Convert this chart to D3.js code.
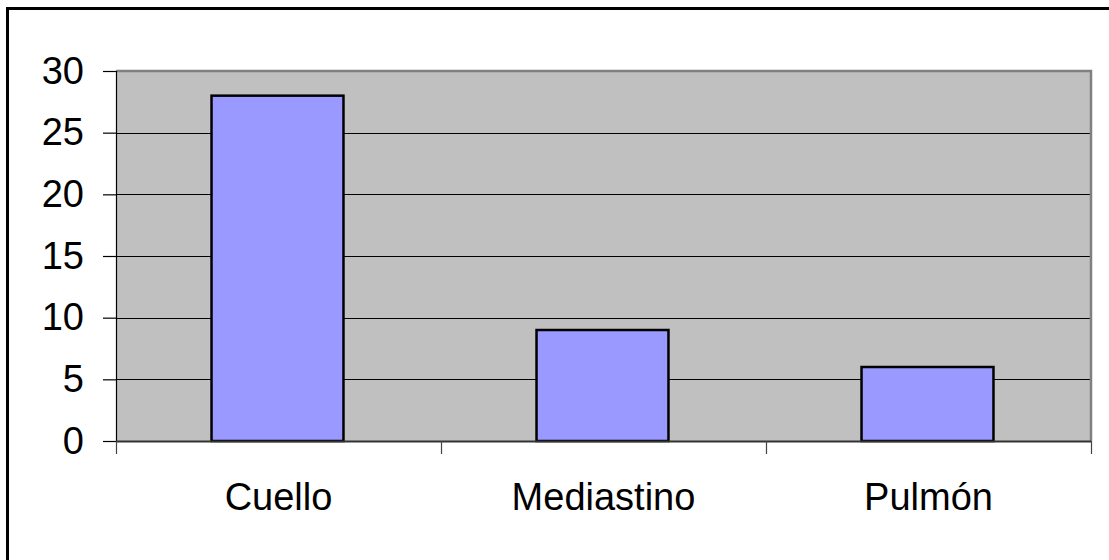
<!DOCTYPE html>
<html>
<head>
<meta charset="utf-8">
<script src="https://cdn.jsdelivr.net/npm/d3@7"></script>
<style>
  html, body { margin: 0; padding: 0; background: #fff; }
  svg { display: block; }
</style>
</head>
<body>
<div id="chart-container"></div>
<script>
// Chart data
const categories = ["Cuello", "Mediastino", "Pulmón"];
const values = [28, 9, 6];
const yTicks = [0, 5, 10, 15, 20, 25, 30];

const W = 1109, H = 560;
const plot = { left: 116, top: 71, right: 1091, bottom: 441 };

const svg = d3.select("#chart-container")
  .append("svg")
  .attr("width", W)
  .attr("height", H);

svg.append("rect").attr("width", W).attr("height", H).attr("fill", "#fff");

// outer frame (right and bottom run off the canvas)
svg.append("rect")
  .attr("x", 7.5).attr("y", 8.5)
  .attr("width", W + 20).attr("height", H + 20)
  .attr("fill", "none")
  .attr("stroke", "#000")
  .attr("stroke-width", 3);

const x = d3.scaleBand()
  .domain(categories)
  .range([plot.left, plot.right])
  .paddingInner(0.594)
  .paddingOuter(0.297);

const xb = d3.scaleBand()
  .domain(categories)
  .range([plot.left, plot.right]);

const y = d3.scaleLinear()
  .domain([0, 30])
  .range([plot.bottom, plot.top]);

// plot area background
svg.append("rect")
  .attr("x", plot.left).attr("y", plot.top)
  .attr("width", plot.right - plot.left)
  .attr("height", plot.bottom - plot.top)
  .attr("fill", "#C0C0C0");

// gridlines
svg.append("g")
  .selectAll("line")
  .data(yTicks.filter(t => t > 0 && t < 30))
  .join("line")
  .attr("x1", plot.left).attr("x2", plot.right)
  .attr("y1", d => Math.round(y(d)) + 0.5)
  .attr("y2", d => Math.round(y(d)) + 0.5)
  .attr("stroke", "#000")
  .attr("stroke-width", 1);

// plot border top and right
svg.append("path")
  .attr("d", `M${plot.left},${plot.top} H${plot.right} V${plot.bottom}`)
  .attr("fill", "none")
  .attr("stroke", "#808080")
  .attr("stroke-width", 2.5);

// bars
svg.append("g")
  .selectAll("rect")
  .data(values)
  .join("rect")
  .attr("x", (d, i) => x(categories[i]) - 1)
  .attr("y", d => y(d))
  .attr("width", x.bandwidth())
  .attr("height", d => y(0) - y(d))
  .attr("fill", "#9999FF")
  .attr("stroke", "#000")
  .attr("stroke-width", 2.5);

// y axis
const yAxis = d3.axisLeft(y)
  .tickValues(yTicks)
  .tickSize(13)
  .tickPadding(19)
  .tickFormat(d3.format("d"));

const gy = svg.append("g")
  .attr("transform", `translate(${plot.left},0)`)
  .call(yAxis);
gy.select(".domain").attr("stroke", "#000").attr("stroke-width", 1.2);
gy.selectAll(".tick line").attr("stroke", "#000").attr("stroke-width", 1.2);
gy.selectAll(".tick text")
  .attr("font-family", "Arimo, 'Liberation Sans', Arial, sans-serif")
  .attr("font-size", 38)
  .attr("fill", "#000");

// x axis
const gx = svg.append("g")
  .attr("transform", `translate(0,${plot.bottom})`);
gx.append("line")
  .attr("x1", plot.left).attr("x2", plot.right)
  .attr("y1", 0.5).attr("y2", 0.5)
  .attr("stroke", "#333")
  .attr("stroke-width", 2);
const boundaries = categories.map(c => xb(c)).concat([plot.right]);
gx.selectAll("line.tick")
  .data(boundaries)
  .join("line")
  .attr("class", "tick")
  .attr("x1", d => Math.round(d) + 0.5).attr("x2", d => Math.round(d) + 0.5)
  .attr("y1", 0).attr("y2", 13)
  .attr("stroke", "#444")
  .attr("stroke-width", 1.2);
gx.selectAll("text")
  .data(categories)
  .join("text")
  .attr("x", d => xb(d) + xb.bandwidth() / 2)
  .attr("y", 69)
  .attr("text-anchor", "middle")
  .attr("font-family", "Arimo, 'Liberation Sans', Arial, sans-serif")
  .attr("font-size", 38)
  .attr("fill", "#000")
  .text(d => d);
</script>
</body>
</html>
